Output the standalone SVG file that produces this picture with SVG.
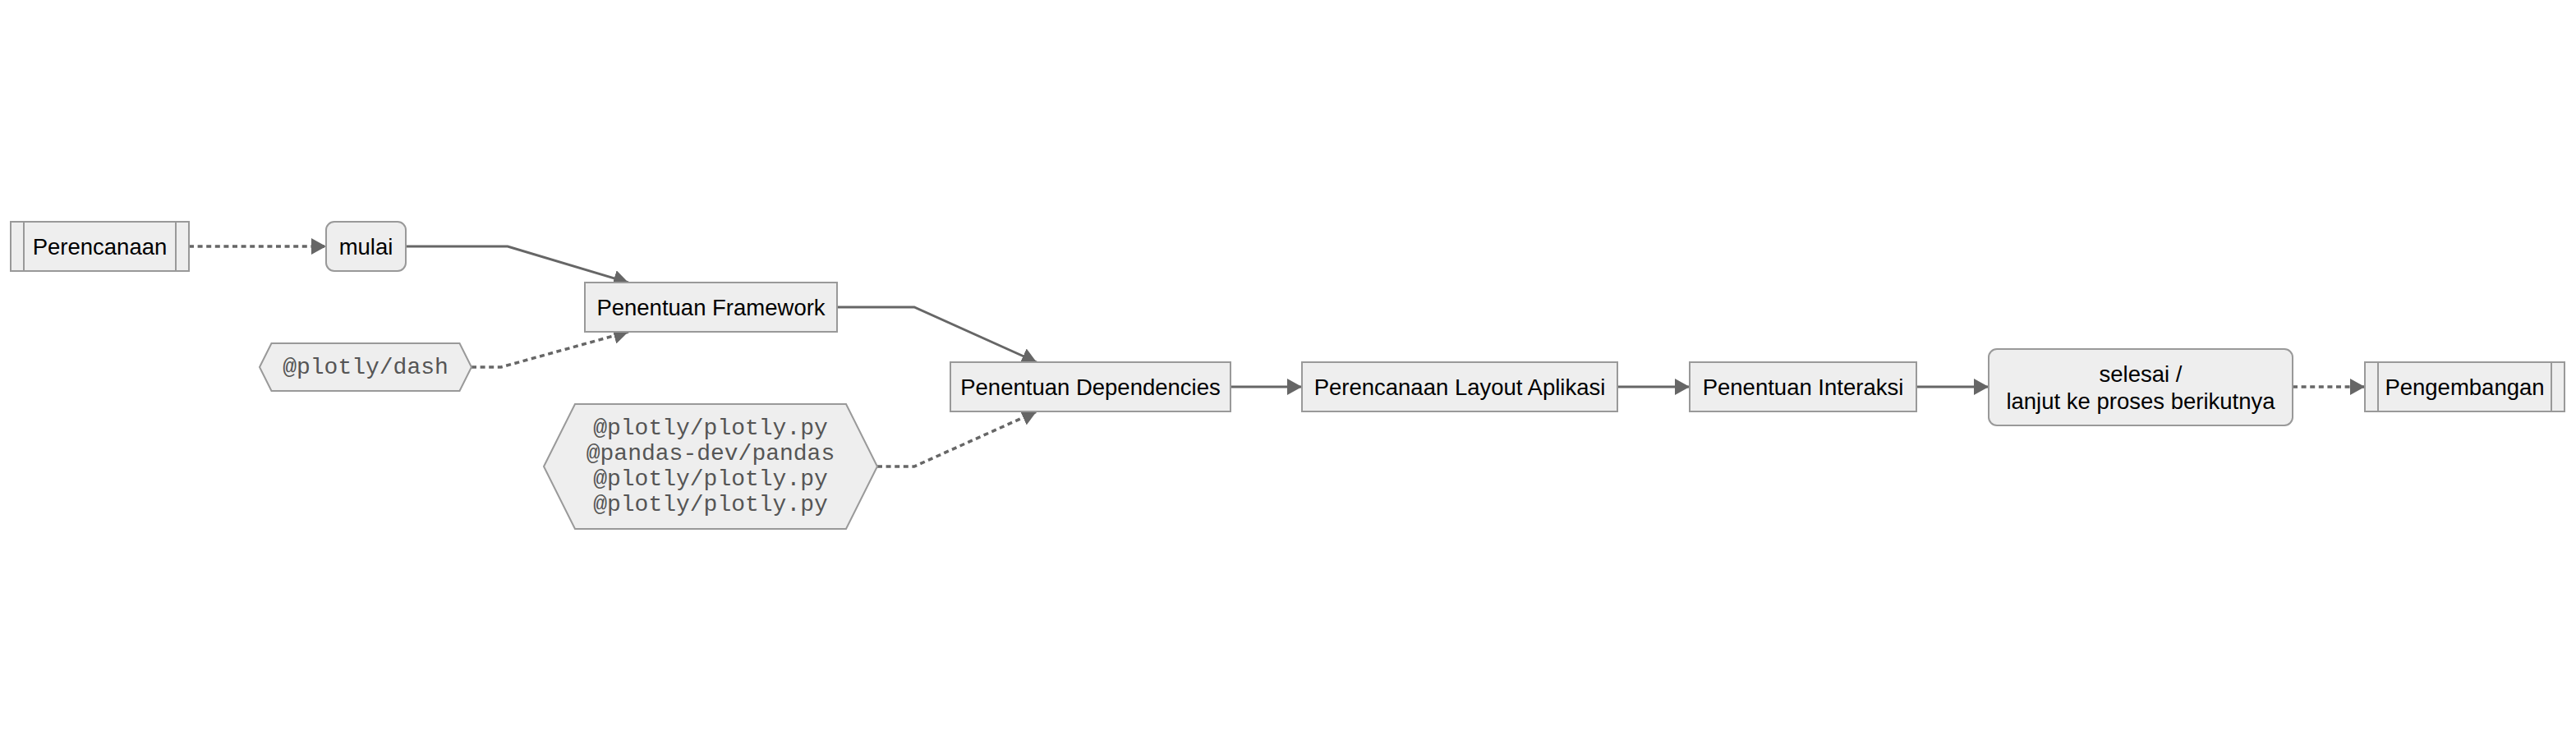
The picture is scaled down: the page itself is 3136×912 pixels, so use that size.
<svg xmlns="http://www.w3.org/2000/svg" width="3136" height="912" viewBox="0 0 3136 912">
<defs>
<style>
.node rect, .node polygon { fill: #eeeeee; stroke: #999999; stroke-width: 2; }
.node line { stroke: #999999; stroke-width: 2; }
.lbl { font-family: "Liberation Sans", Arial, sans-serif; font-size: 27.5px; fill: #000000; text-anchor: middle; }
.mono { font-family: "Liberation Mono", "DejaVu Sans Mono", monospace; font-size: 28px; fill: #555555; text-anchor: middle; }
.edge { fill: none; stroke: #666666; stroke-width: 3; marker-end: url(#arrow); }
.dotted { stroke-width: 3.5; stroke-dasharray: 6 4.6; }
</style>
<marker id="arrow" markerUnits="userSpaceOnUse" viewBox="0 0 18 20" markerWidth="18" markerHeight="20" refX="18" refY="10" orient="auto">
<path d="M0,0 L18,10 L0,20 z" fill="#666666"/>
</marker>
</defs>
<rect width="3136" height="912" fill="#ffffff"/>
<g id="connectors">
<path class="edge dotted" d="M230,300 L397,300"/>
<path class="edge" d="M494,300 L618,300 L765,344"/>
<path class="edge dotted" d="M574,447 L610,447 L765,404"/>
<path class="edge" d="M1019,374 L1113,374 L1262,441"/>
<path class="edge dotted" d="M1068,568 L1113,568 L1262,501"/>
<path class="edge" d="M1498,471 L1585,471"/>
<path class="edge" d="M1969,471 L2057,471"/>
<path class="edge" d="M2333,471 L2421,471"/>
<path class="edge dotted" d="M2791,471 L2879,471"/>
</g>
<g id="perencanaan" class="node">
<rect x="13" y="270" width="217" height="60"/>
<line x1="29" y1="270" x2="29" y2="330"/>
<line x1="214" y1="270" x2="214" y2="330"/>
<text class="lbl" x="121.5" y="310">Perencanaan</text>
</g>
<g id="mulai" class="node">
<rect x="397" y="270" width="97" height="60" rx="10" ry="10"/>
<text class="lbl" x="445.5" y="310">mulai</text>
</g>
<g id="framework" class="node">
<rect x="712" y="344" width="307" height="60"/>
<text class="lbl" x="865.5" y="384">Penentuan Framework</text>
</g>
<g id="dash" class="node">
<polygon points="316,447 330.5,418 559.5,418 574,447 559.5,476 330.5,476"/>
<text class="mono" x="445" y="455">@plotly/dash</text>
</g>
<g id="libs" class="node">
<polygon points="662,568 700,492 1030,492 1068,568 1030,644 700,644"/>
<text class="mono" x="865" y="529">@plotly/plotly.py</text>
<text class="mono" x="865" y="560">@pandas-dev/pandas</text>
<text class="mono" x="865" y="591">@plotly/plotly.py</text>
<text class="mono" x="865" y="622">@plotly/plotly.py</text>
</g>
<g id="dependencies" class="node">
<rect x="1157" y="441" width="341" height="60"/>
<text class="lbl" x="1327.5" y="481">Penentuan Dependencies</text>
</g>
<g id="layout" class="node">
<rect x="1585" y="441" width="384" height="60"/>
<text class="lbl" x="1777" y="481">Perencanaan Layout Aplikasi</text>
</g>
<g id="interaksi" class="node">
<rect x="2057" y="441" width="276" height="60"/>
<text class="lbl" x="2195" y="481">Penentuan Interaksi</text>
</g>
<g id="selesai" class="node">
<rect x="2421" y="425" width="370" height="93" rx="10" ry="10"/>
<text class="lbl" x="2606" y="465">selesai /</text>
<text class="lbl" x="2606" y="498">lanjut ke proses berikutnya</text>
</g>
<g id="pengembangan" class="node">
<rect x="2879" y="441" width="243" height="60"/>
<line x1="2895" y1="441" x2="2895" y2="501"/>
<line x1="3106" y1="441" x2="3106" y2="501"/>
<text class="lbl" x="3000.5" y="481">Pengembangan</text>
</g>
</svg>
